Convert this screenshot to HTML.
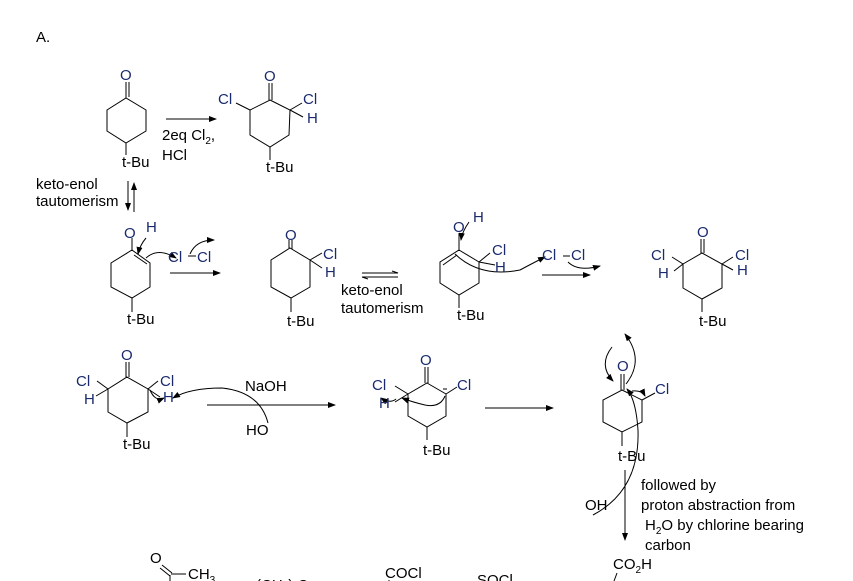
<!DOCTYPE html>
<html><head><meta charset="utf-8"><style>
html,body{margin:0;padding:0;background:#fff;}
svg{display:block;font-family:"Liberation Sans",Arial,sans-serif;}
text{font-size:15px;fill:#000;}
.b{fill:#1a2a6c;}
</style></head><body>
<svg width="853" height="581" viewBox="0 0 853 581" xmlns="http://www.w3.org/2000/svg">
<defs><marker id="a" markerWidth="8" markerHeight="6" refX="7" refY="3" orient="auto"><path d="M0,0 L8,3 L0,6 z" fill="#000"/></marker></defs>
<g stroke="#000" stroke-width="1" fill="none">
<polygon points="126,98 146,110 146,131 126,143 107,131 107,110"/>
<line x1="126" y1="82" x2="126" y2="98"/><line x1="129" y1="82" x2="129" y2="97"/>
<line x1="126" y1="143" x2="126" y2="155"/>
<line x1="166" y1="119" x2="216" y2="119" marker-end="url(#a)"/>
<polygon points="270,100 290,110 289,135 270,147 250,135 250,110"/>
<line x1="269" y1="83" x2="269" y2="100"/><line x1="272" y1="83" x2="272" y2="100"/>
<line x1="250" y1="110" x2="236" y2="103"/><line x1="290" y1="110" x2="302" y2="103"/><line x1="290" y1="110" x2="303" y2="117"/>
<line x1="270" y1="147" x2="270" y2="160"/>
<line x1="128" y1="181" x2="128" y2="210" marker-end="url(#a)"/>
<line x1="134" y1="212" x2="134" y2="183" marker-end="url(#a)"/>
<polygon points="132,250 150,263 150,287 132,298 111,287 111,263"/>
<line x1="134" y1="255" x2="147" y2="264"/>
<line x1="132" y1="238" x2="132" y2="250"/>
<line x1="132" y1="298" x2="132" y2="312"/>
<path d="M146,238 Q140,245 138,254" marker-end="url(#a)"/>
<path d="M146,258 Q158,247 176,258" marker-end="url(#a)"/>
<path d="M190,254 Q196,240 214,240" marker-end="url(#a)"/>
<line x1="188" y1="256" x2="196" y2="256"/>
<line x1="170" y1="273" x2="220" y2="273" marker-end="url(#a)"/>
<polygon points="290,248 310,260 310,287 291,298 271,287 271,260"/>
<line x1="289" y1="240" x2="289" y2="248"/><line x1="292" y1="240" x2="292" y2="249"/>
<line x1="310" y1="260" x2="322" y2="253"/><line x1="310" y1="260" x2="322" y2="268"/>
<line x1="291" y1="298" x2="291" y2="312"/>
<line x1="362" y1="273" x2="398" y2="273"/><line x1="362" y1="277" x2="398" y2="277"/>
<line x1="392" y1="271" x2="398" y2="273"/><line x1="362" y1="277" x2="368" y2="279"/>
<polygon points="459,250 479,262 479,283 459,295 440,283 440,262"/>
<line x1="457" y1="255" x2="443" y2="265"/>
<line x1="459" y1="233" x2="459" y2="250"/>
<line x1="479" y1="262" x2="490" y2="253"/><line x1="479" y1="262" x2="495" y2="265"/>
<line x1="459" y1="295" x2="459" y2="308"/>
<path d="M469,222 Q462,232 461,240" marker-end="url(#a)"/>
<path d="M455,254 Q480,278 520,270 Q535,262 545,257" marker-end="url(#a)"/>
<line x1="563" y1="256" x2="570" y2="256"/>
<path d="M568,262 Q578,272 600,266" marker-end="url(#a)"/>
<line x1="542" y1="275" x2="590" y2="275" marker-end="url(#a)"/>
<polygon points="702,253 722,264 722,288 702,299 683,288 683,264"/>
<line x1="701" y1="239" x2="701" y2="253"/><line x1="704" y1="239" x2="704" y2="253"/>
<line x1="683" y1="264" x2="672" y2="257"/><line x1="683" y1="264" x2="674" y2="271"/>
<line x1="722" y1="264" x2="733" y2="257"/><line x1="722" y1="264" x2="733" y2="270"/>
<line x1="702" y1="299" x2="702" y2="312"/>
<polygon points="127,377 148,389 148,412 127,423 108,412 108,389"/>
<line x1="126" y1="362" x2="126" y2="377"/><line x1="129" y1="362" x2="129" y2="377"/>
<line x1="108" y1="389" x2="97" y2="381"/><line x1="108" y1="389" x2="96" y2="396"/>
<line x1="148" y1="389" x2="158" y2="381"/><line x1="148" y1="389" x2="160" y2="397"/>
<line x1="127" y1="423" x2="127" y2="437"/>
<path d="M150,390 Q155,402 164,398" marker-end="url(#a)"/>
<path d="M268,423 Q260,392 222,388 Q190,388 173,398" marker-end="url(#a)"/>
<line x1="207" y1="405" x2="335" y2="405" marker-end="url(#a)"/>
<polygon points="427,383 446,394 446,416 427,427 408,416 408,394"/>
<line x1="425" y1="367" x2="425" y2="383"/><line x1="428" y1="367" x2="428" y2="383"/>
<line x1="446" y1="394" x2="457" y2="387"/><line x1="408" y1="394" x2="395" y2="386"/><line x1="408" y1="394" x2="395" y2="402"/>
<line x1="427" y1="427" x2="427" y2="440"/>
<line x1="443" y1="389" x2="447" y2="389"/>
<path d="M445,396 Q440,408 425,405 Q412,402 402,398" marker-end="url(#a)"/>
<path d="M396,399 Q390,404 381,398" marker-end="url(#a)"/>
<line x1="485" y1="408" x2="553" y2="408" marker-end="url(#a)"/>
<polygon points="622,390 642,400 642,422 622,432 603,422 603,400"/>
<line x1="621" y1="374" x2="621" y2="390"/><line x1="624" y1="374" x2="624" y2="390"/>
<line x1="642" y1="400" x2="655" y2="393"/>
<line x1="622" y1="432" x2="622" y2="446"/>
<path d="M612,347 Q598,365 613,381" marker-end="url(#a)"/>
<path d="M626,384 Q645,360 625,334" marker-end="url(#a)"/>
<path d="M632,391 Q642,390 645,396" marker-end="url(#a)"/>
<path d="M593,515 Q640,490 638,430 Q636,400 627,389" marker-end="url(#a)"/>
<line x1="625" y1="470" x2="625" y2="540" marker-end="url(#a)"/>
<line x1="617" y1="573" x2="614" y2="581"/>
<line x1="162" y1="565" x2="172" y2="573"/><line x1="160" y1="568" x2="170" y2="576"/>
<line x1="171" y1="574" x2="186" y2="574"/><line x1="170" y1="575" x2="170" y2="581"/>
<line x1="389" y1="580" x2="389" y2="581"/>
</g>
<text x="36" y="42">A.</text>
<text x="120" y="80" class="b">O</text>
<text x="122" y="167">t-Bu</text>
<text x="162" y="140">2eq Cl<tspan font-size="10" dy="4">2</tspan><tspan dy="-4">,</tspan></text>
<text x="162" y="160">HCl</text>
<text x="264" y="81" class="b">O</text>
<text x="218" y="104" class="b">Cl</text>
<text x="303" y="104" class="b">Cl</text>
<text x="307" y="123" class="b">H</text>
<text x="266" y="172">t-Bu</text>
<text x="36" y="189">keto-enol</text>
<text x="36" y="206">tautomerism</text>
<text x="124" y="238" class="b">O</text>
<text x="146" y="232" class="b">H</text>
<text x="168" y="262" class="b">Cl</text>
<text x="197" y="262" class="b">Cl</text>
<text x="127" y="324">t-Bu</text>
<text x="285" y="240" class="b">O</text>
<text x="323" y="259" class="b">Cl</text>
<text x="325" y="277" class="b">H</text>
<text x="287" y="326">t-Bu</text>
<text x="341" y="295">keto-enol</text>
<text x="341" y="313">tautomerism</text>
<text x="453" y="232" class="b">O</text>
<text x="473" y="222" class="b">H</text>
<text x="492" y="255" class="b">Cl</text>
<text x="495" y="272" class="b">H</text>
<text x="457" y="320">t-Bu</text>
<text x="542" y="260" class="b">Cl</text>
<text x="571" y="260" class="b">Cl</text>
<text x="697" y="237" class="b">O</text>
<text x="651" y="260" class="b">Cl</text>
<text x="658" y="278" class="b">H</text>
<text x="735" y="260" class="b">Cl</text>
<text x="737" y="275" class="b">H</text>
<text x="699" y="326">t-Bu</text>
<text x="121" y="360" class="b">O</text>
<text x="76" y="386" class="b">Cl</text>
<text x="84" y="404" class="b">H</text>
<text x="160" y="386" class="b">Cl</text>
<text x="163" y="402" class="b">H</text>
<text x="123" y="449">t-Bu</text>
<text x="245" y="391">NaOH</text>
<text x="246" y="435">HO</text>
<text x="420" y="365" class="b">O</text>
<text x="372" y="390" class="b">Cl</text>
<text x="379" y="408" class="b">H</text>
<text x="457" y="390" class="b">Cl</text>
<text x="423" y="455">t-Bu</text>
<text x="617" y="371" class="b">O</text>
<text x="655" y="394" class="b">Cl</text>
<text x="618" y="461">t-Bu</text>
<text x="641" y="490">followed by</text>
<text x="641" y="510">proton abstraction from</text>
<text x="645" y="530">H<tspan font-size="10" dy="4">2</tspan><tspan dy="-4">O by chlorine bearing</tspan></text>
<text x="645" y="550">carbon</text>
<text x="585" y="510">OH</text>
<text x="613" y="569">CO<tspan font-size="10" dy="4">2</tspan><tspan dy="-4">H</tspan></text>
<text x="150" y="563">O</text>
<text x="188" y="579">CH<tspan font-size="10" dy="4">3</tspan></text>
<text x="256" y="590">(CH<tspan font-size="10" dy="4">2</tspan><tspan dy="-4">)</tspan> C</text>
<text x="385" y="578">COCl</text>
<text x="477" y="585">SOCl</text>
</svg>
</body></html>
